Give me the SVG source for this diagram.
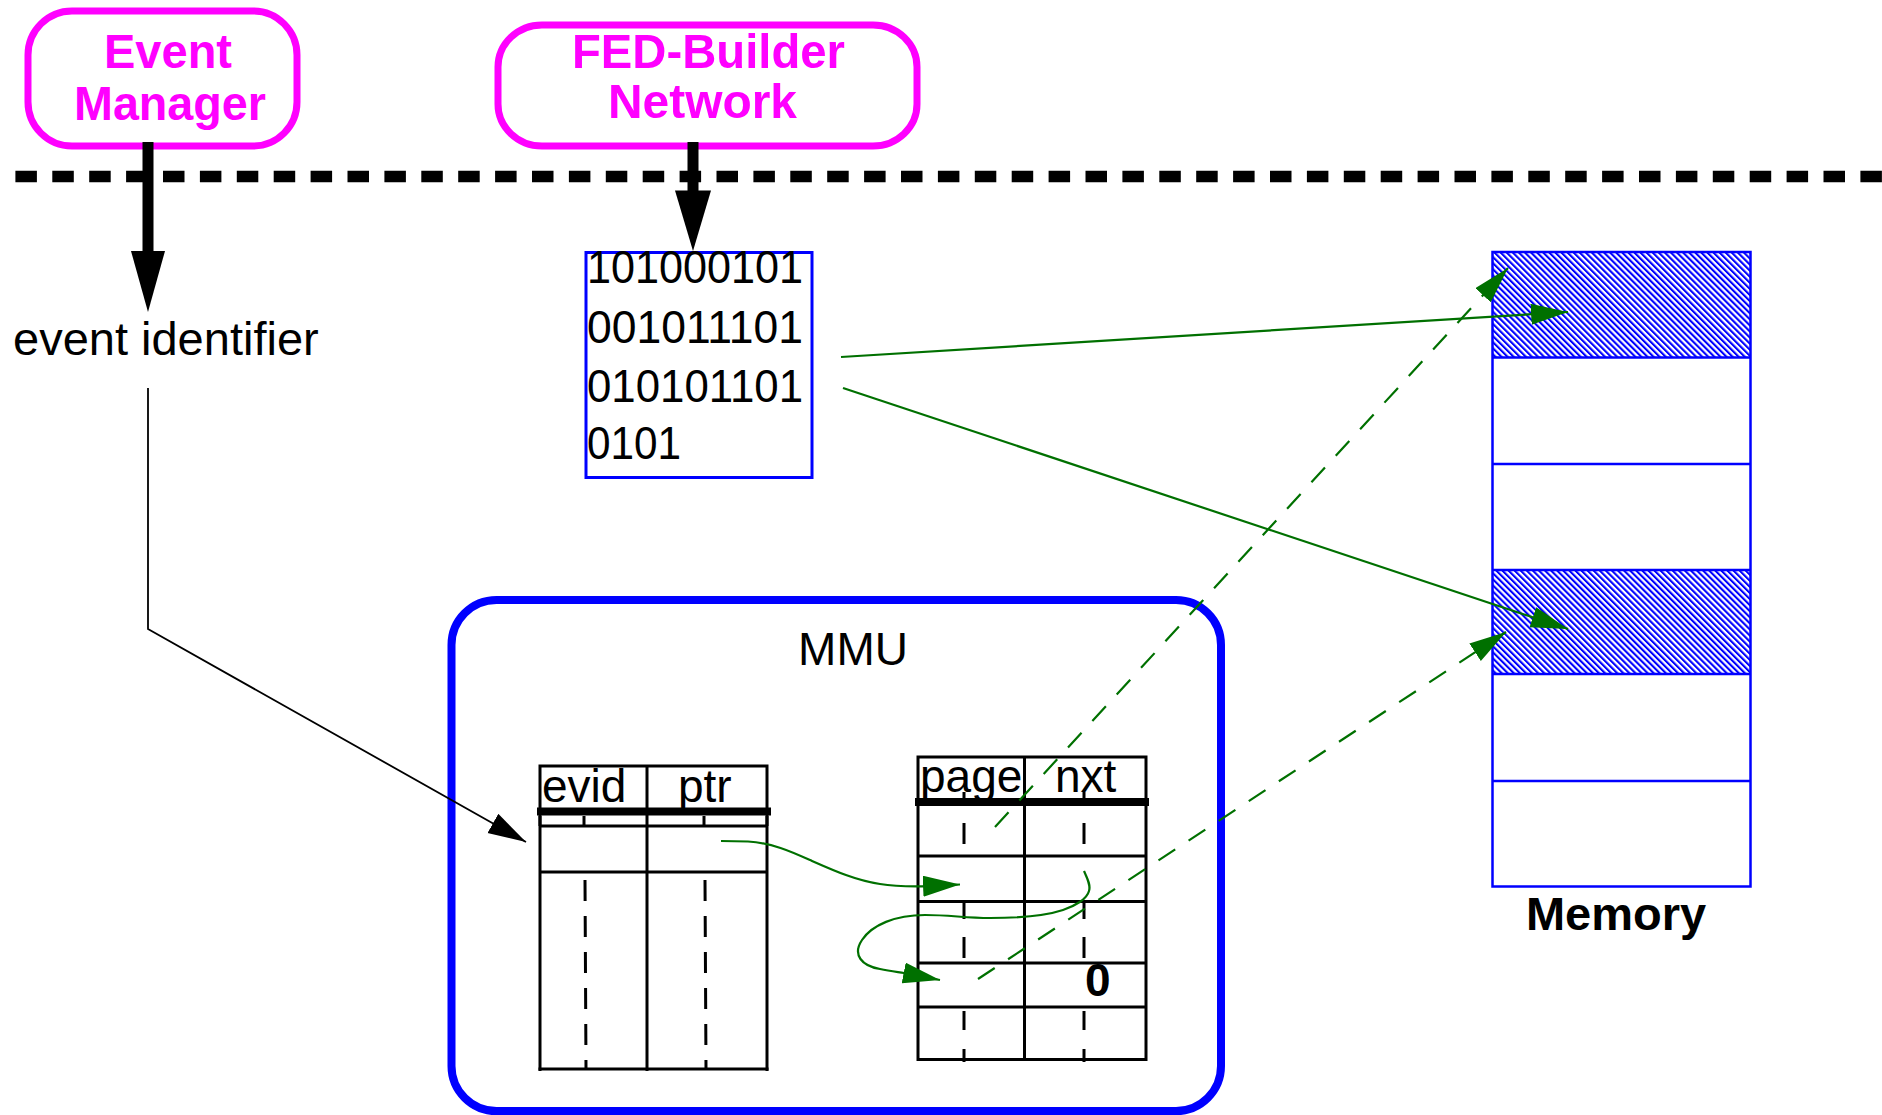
<svg xmlns="http://www.w3.org/2000/svg" width="1882" height="1115" viewBox="0 0 1882 1115">
  <style>
    .t { font-family: "Liberation Sans", Arial, sans-serif; font-size: 46px; fill: #000; }
    .tb { font-family: "Liberation Sans", Arial, sans-serif; font-size: 47px; font-weight: bold; }
    .mag { fill: #ff00ff; font-size: 49px; }
    .src { fill: none; stroke: #ff00ff; stroke-width: 7; }
    .grid { stroke: #000; stroke-width: 3; fill: none; }
    .head { stroke: #000; stroke-width: 8; }
    .tick { stroke: #000; stroke-width: 3; }
    .mem { fill: none; stroke: #0000ff; stroke-width: 2.5; }
    .g { fill: none; stroke: #007000; stroke-width: 2.2; }
    .gd { fill: none; stroke: #007000; stroke-width: 2.2; stroke-dasharray: 20 16; }
  </style>
  <defs>
    <marker id="ag" markerUnits="userSpaceOnUse" markerWidth="38" markerHeight="22" refX="37" refY="10.5" orient="auto">
      <path d="M0,0 L37,10.5 L0,21 z" fill="#007000"/>
    </marker>
    <marker id="ak" markerUnits="userSpaceOnUse" markerWidth="39" markerHeight="23" refX="38" refY="11" orient="auto">
      <path d="M0,0 L38,11 L0,22 z" fill="#000"/>
    </marker>
    <pattern id="hatch" patternUnits="userSpaceOnUse" width="4.3" height="10" patternTransform="rotate(-45)">
      <rect x="0" y="0" width="2.1" height="10" fill="#0000ff"/>
    </pattern>
  </defs>

  <!-- separator between the network side and the readout unit -->
  <line x1="15.4" y1="176.5" x2="1882" y2="176.5" stroke="#000" stroke-width="11.5" stroke-dasharray="21.5 15.4"/>

  <!-- Event Manager -->
  <g id="event-manager">
    <rect class="src" x="28" y="11" width="269" height="135" rx="44" ry="44"/>
    <text class="tb mag" x="104" y="68" textLength="128" lengthAdjust="spacingAndGlyphs">Event</text>
    <text class="tb mag" x="74" y="120" textLength="192" lengthAdjust="spacingAndGlyphs">Manager</text>
  </g>

  <!-- FED-Builder Network -->
  <g id="fed-builder">
    <rect class="src" x="498" y="25" width="419" height="121" rx="44" ry="42"/>
    <text class="tb mag" x="572" y="68" textLength="273" lengthAdjust="spacingAndGlyphs">FED-Builder</text>
    <text class="tb mag" x="608" y="118" textLength="189" lengthAdjust="spacingAndGlyphs">Network</text>
  </g>

  <!-- event identifier -->
  <g id="event-identifier">
    <text class="t" x="13" y="355" style="font-size:47px">event identifier</text>
  </g>

  <!-- incoming data fragment -->
  <g id="data">
    <rect x="586" y="252.5" width="226" height="225" fill="none" stroke="#0000ff" stroke-width="3"/>
    <text class="t" x="587" y="283" textLength="216" lengthAdjust="spacingAndGlyphs">101000101</text>
    <text class="t" x="587" y="343" textLength="216" lengthAdjust="spacingAndGlyphs">001011101</text>
    <text class="t" x="587" y="402" textLength="216" lengthAdjust="spacingAndGlyphs">010101101</text>
    <text class="t" x="587" y="459" textLength="94" lengthAdjust="spacingAndGlyphs">0101</text>
  </g>

  <!-- Memory Management Unit -->
  <g id="mmu">
    <rect x="451.5" y="600" width="769.5" height="511" rx="45" ry="45" fill="none" stroke="#0000ff" stroke-width="8"/>
    <text class="t" x="853" y="665" text-anchor="middle">MMU</text>
  </g>

  <!-- event table: evid / ptr -->
  <g id="evid-table">
    <polyline class="grid" points="540,826 540,766 767,766 767,826"/>
    <line class="grid" x1="647" y1="766" x2="647" y2="1071"/>
    <line class="head" x1="537" y1="811.5" x2="771" y2="811.5"/>
    <line class="grid" x1="540" y1="816" x2="540" y2="1071"/>
    <line class="grid" x1="767" y1="816" x2="767" y2="1071"/>
    <line class="grid" x1="540" y1="826" x2="767" y2="826"/>
    <line class="grid" x1="540" y1="872" x2="767" y2="872"/>
    <line class="grid" x1="538.5" y1="1069" x2="768.5" y2="1069"/>
    <text class="t" x="542" y="802">evid</text>
    <text class="t" x="678" y="802">ptr</text>
    <line class="tick" x1="584" y1="816" x2="584" y2="826"/>
    <line class="tick" x1="704" y1="816" x2="704" y2="826"/>
    <line class="tick" x1="585" y1="880" x2="586" y2="1069" stroke-dasharray="21 15"/>
    <line class="tick" x1="705" y1="880" x2="706" y2="1069" stroke-dasharray="21 15"/>
  </g>

  <!-- page table: page / nxt -->
  <g id="page-table">
    <rect class="grid" x="918" y="757" width="228" height="302.5"/>
    <line class="grid" x1="1024.5" y1="757" x2="1024.5" y2="1061"/>
    <line class="head" x1="915" y1="802" x2="1149" y2="802"/>
    <line class="grid" x1="918" y1="856" x2="1146" y2="856"/>
    <line class="grid" x1="918" y1="901.5" x2="1146" y2="901.5"/>
    <line class="grid" x1="918" y1="963" x2="1146" y2="963"/>
    <line class="grid" x1="918" y1="1007" x2="1146" y2="1007"/>
    <text class="t" x="920" y="792">page</text>
    <text class="t" x="1055" y="792">nxt</text>
    <text class="t" x="1085" y="996" style="font-weight:bold">0</text>
    <g class="tick">
      <line x1="964" y1="792" x2="964" y2="798"/>
      <line x1="1084" y1="792" x2="1084" y2="798"/>
      <line x1="964" y1="823" x2="964" y2="844"/>
      <line x1="1084" y1="823" x2="1084" y2="844"/>
      <line x1="964" y1="903" x2="964" y2="919"/>
      <line x1="1084" y1="903" x2="1084" y2="919"/>
      <line x1="964" y1="937" x2="964" y2="958"/>
      <line x1="1084" y1="937" x2="1084" y2="958"/>
      <line x1="964" y1="1011" x2="964" y2="1030"/>
      <line x1="1084" y1="1011" x2="1084" y2="1030"/>
      <line x1="964" y1="1049" x2="964" y2="1062"/>
      <line x1="1084" y1="1049" x2="1084" y2="1062"/>
    </g>
  </g>

  <!-- Memory pages -->
  <g id="memory">
    <rect x="1492.5" y="252" width="258" height="105.6" fill="url(#hatch)"/>
    <rect x="1492.5" y="570" width="258" height="104" fill="url(#hatch)"/>
    <rect class="mem" x="1492.5" y="252" width="258" height="634.5"/>
    <line class="mem" x1="1492.5" y1="357.6" x2="1750.5" y2="357.6"/>
    <line class="mem" x1="1492.5" y1="464" x2="1750.5" y2="464"/>
    <line class="mem" x1="1492.5" y1="570" x2="1750.5" y2="570"/>
    <line class="mem" x1="1492.5" y1="674" x2="1750.5" y2="674"/>
    <line class="mem" x1="1492.5" y1="781" x2="1750.5" y2="781"/>
    <text class="tb" x="1616" y="930" text-anchor="middle">Memory</text>
  </g>

  <!-- connectors -->
  <g id="connectors">
    <!-- thick arrows from the sources -->
    <line x1="148" y1="142" x2="148" y2="252" stroke="#000" stroke-width="11"/>
    <polygon points="131,251 165,251 148,312" fill="#000"/>
    <line x1="693" y1="142" x2="693" y2="192" stroke="#000" stroke-width="11"/>
    <polygon points="675,190.5 711,190.5 693,251" fill="#000"/>

    <!-- event id lookup -->
    <polyline points="148,388 148,629 526,842" fill="none" stroke="#000" stroke-width="1.8" marker-end="url(#ak)"/>

    <!-- data written to memory pages -->
    <line class="g" x1="841" y1="357" x2="1568" y2="312" marker-end="url(#ag)"/>
    <line class="g" x1="843" y1="388" x2="1568" y2="629" marker-end="url(#ag)"/>

    <!-- page entries pointing to memory -->
    <line class="gd" x1="995" y1="827" x2="1508" y2="268" marker-end="url(#ag)"/>
    <line class="gd" x1="978" y1="979" x2="1506" y2="632" marker-end="url(#ag)"/>

    <!-- ptr to first page, nxt to following page -->
    <path class="g" d="M721,841 L748,841.5 C772,843 790,851 810,860 C835,871 855,880 880,884 C895,886.5 905,886.5 922,886.3 L960,884.5" marker-end="url(#ag)"/>
    <path class="g" d="M1084,871 C1087,878 1091,885 1089,891 C1087,899 1075,906 1063,910 C1045,916 1020,918 990,918 C965,918 950,915 925,915 C895,915 872,925 862,940 C852,955 862,966 880,969 C890,971 898,972 904,973 L940,980" marker-end="url(#ag)"/>
  </g>
</svg>
